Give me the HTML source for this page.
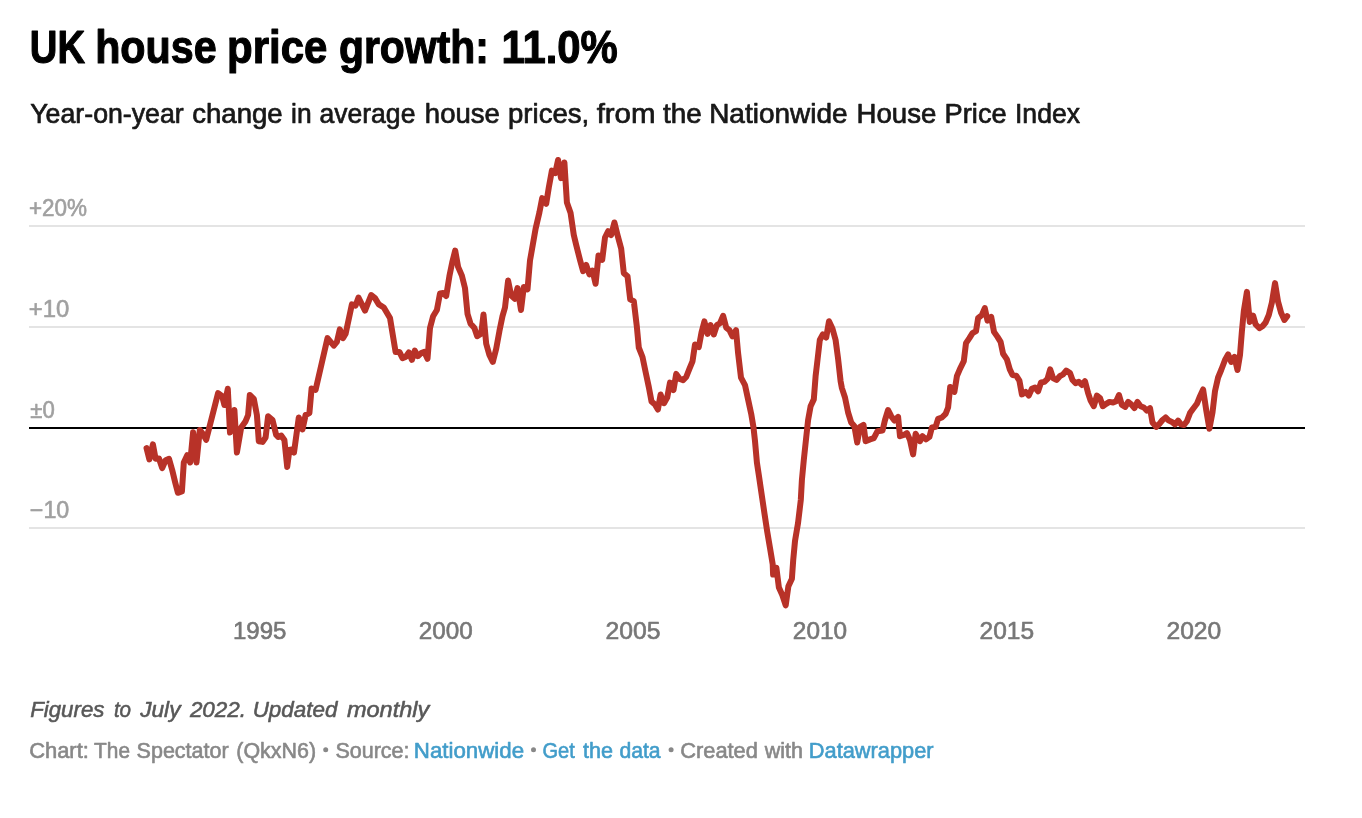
<!DOCTYPE html>
<html><head><meta charset="utf-8"><title>UK house price growth</title>
<style>
html,body{margin:0;padding:0;background:#fff;}
svg{display:block;font-family:"Liberation Sans",sans-serif;will-change:transform;}
</style></head>
<body>
<svg width="1362" height="818" viewBox="0 0 1362 818">
<rect width="1362" height="818" fill="#fff"/>
<g id="grid" stroke="#e4e4e4" stroke-width="2">
<line x1="29" x2="1305" y1="226" y2="226"/>
<line x1="29" x2="1305" y1="327" y2="327"/>
<line x1="29" x2="1305" y1="528" y2="528"/>
</g>
<line id="zero" x1="29" x2="1305" y1="428" y2="428" stroke="#000" stroke-width="2"/>
<path id="line" d="M146.5,448.1 149.4,459.4 152.9,444.4 155.6,458.8 159.0,458.5 162.2,468.1 165.6,460.2 169.0,458.8 172.2,470.0 175.2,482.5 177.9,492.8 181.9,491.5 183.8,462.5 187.2,455.2 190.2,462.5 193.1,432.2 196.5,462.5 199.8,430.0 202.9,433.8 206.2,439.8 218.1,393.1 222.2,396.2 224.4,405.0 227.8,388.8 230.0,432.5 234.4,410.0 236.9,452.5 241.2,427.5 245.6,421.2 248.1,415.0 249.8,395.0 253.8,398.8 256.9,415.0 258.8,441.2 262.5,441.9 265.6,437.5 268.1,416.2 272.5,420.0 276.2,435.0 278.1,436.9 281.2,435.6 284.4,440.0 287.2,466.9 289.4,450.0 291.9,449.4 294.0,452.5 298.8,417.5 302.5,429.4 305.6,415.0 309.4,413.1 311.6,388.5 315.6,389.8 327.5,338.1 333.8,345.6 336.9,341.9 339.8,329.4 343.1,338.1 345.6,333.8 351.9,304.4 355.6,305.6 358.5,297.5 365.0,310.6 371.2,295.0 375.0,298.1 378.8,304.4 383.8,307.5 390.0,318.1 395.6,351.9 399.4,351.9 402.5,358.1 405.6,356.9 408.8,352.5 411.9,359.8 414.8,350.6 417.8,356.2 421.2,353.1 424.4,351.9 427.5,358.8 430.0,328.1 433.1,316.2 436.9,310.0 440.0,293.5 443.1,293.1 446.2,296.0 449.4,276.2 452.2,262.5 455.2,250.6 458.1,266.9 461.9,275.6 465.0,288.1 467.5,313.8 470.6,323.8 474.4,328.1 477.2,336.2 481.2,333.8 483.5,314.4 486.2,343.8 489.4,355.0 492.8,361.9 496.2,348.8 499.4,331.2 502.5,316.2 505.0,307.5 508.1,280.6 511.2,295.6 514.8,298.8 517.5,288.1 521.0,310.0 523.8,286.9 527.5,289.4 530.0,260.6 535.6,228.8 539.4,212.5 542.2,198.1 546.2,203.8 548.8,187.5 551.9,170.6 555.2,173.1 558.1,160.0 561.0,178.1 564.4,162.5 566.9,202.5 570.6,213.1 573.8,235.0 576.2,245.0 580.0,260.0 583.1,271.2 586.2,265.0 589.4,274.4 592.5,270.6 595.6,283.8 598.5,255.6 602.2,259.8 605.0,237.5 608.1,231.2 611.2,235.0 614.4,222.5 617.5,235.0 621.2,248.8 623.8,273.1 627.5,276.2 630.2,299.4 633.8,301.2 636.9,327.2 638.8,347.6 642.5,357.0 645.6,372.0 648.8,387.0 651.5,401.4 655.0,404.5 657.9,409.5 660.6,394.5 664.0,403.2 667.2,397.6 670.0,382.6 673.5,390.1 676.2,373.9 679.8,378.9 683.1,380.1 686.2,377.0 689.4,368.9 692.5,361.4 695.0,344.5 698.8,347.0 701.5,332.6 704.4,321.4 707.5,333.9 710.6,325.1 713.8,334.5 716.9,325.1 720.0,323.2 723.1,315.8 726.2,327.6 729.4,330.1 732.5,336.4 736.0,330.1 738.1,353.2 741.0,377.6 745.0,385.1 748.1,399.5 751.2,413.8 753.5,427.5 755.0,441.2 756.9,462.5 758.8,475.0 764.5,513.7 767.2,531.5 770.0,547.9 772.7,564.3 773.1,574.6 776.4,567.8 778.9,587.6 782.3,595.1 785.7,605.4 788.4,586.2 791.9,578.7 793.2,560.2 795.0,541.1 798.0,523.3 800.8,500.0 801.9,480.0 803.8,460.0 806.2,437.5 808.1,420.0 810.6,406.2 813.8,399.4 815.6,376.2 817.5,360.0 819.8,340.0 822.8,334.4 826.2,337.5 829.0,321.2 832.5,328.8 835.6,340.0 838.1,358.8 840.6,381.2 841.9,388.1 845.0,397.5 848.1,412.5 851.2,422.5 854.4,426.2 857.2,442.5 860.0,426.9 863.5,425.0 865.6,441.2 870.0,439.4 873.8,438.1 877.5,431.2 882.5,430.6 885.0,420.0 888.1,410.0 891.2,416.2 894.4,420.6 898.1,416.9 900.0,436.2 903.8,435.0 906.9,433.1 910.0,440.0 913.1,454.4 915.6,433.8 920.0,441.2 922.5,436.2 926.0,439.4 929.4,436.9 931.9,427.5 935.6,426.9 938.1,418.8 941.9,417.5 945.6,413.8 948.1,407.5 950.2,386.9 954.4,391.9 956.9,376.2 960.0,368.8 963.8,361.2 966.0,343.1 969.4,338.1 972.5,333.1 976.0,331.2 978.1,318.1 981.9,315.0 984.8,308.1 987.5,320.6 991.2,316.9 994.0,331.9 997.5,336.9 1000.6,341.9 1003.1,353.8 1006.9,359.4 1009.8,369.4 1012.5,375.0 1016.2,375.6 1019.4,380.6 1021.9,394.4 1025.6,391.9 1028.8,395.6 1031.9,388.8 1035.0,387.5 1038.1,391.2 1041.0,382.5 1044.4,381.9 1047.5,378.8 1050.2,369.4 1053.1,378.1 1056.5,380.0 1059.8,376.2 1063.1,374.4 1066.2,370.6 1070.0,373.1 1072.5,380.0 1075.6,383.1 1078.8,381.9 1081.9,385.0 1085.0,381.2 1088.1,393.1 1090.6,400.6 1093.8,406.2 1096.9,395.6 1100.0,398.1 1102.8,406.2 1106.2,403.8 1109.4,401.9 1113.1,402.5 1116.2,401.2 1119.0,395.0 1121.9,405.0 1125.2,406.9 1128.1,401.9 1131.2,404.4 1134.4,408.1 1137.5,401.9 1140.6,406.2 1143.8,407.5 1146.9,410.6 1150.0,408.1 1152.5,422.5 1156.2,426.9 1159.4,423.8 1162.5,420.0 1165.6,417.5 1168.8,420.6 1171.9,421.9 1175.0,424.4 1178.1,420.6 1181.0,424.4 1184.0,425.0 1186.9,421.2 1190.0,413.1 1193.1,408.8 1196.9,403.8 1200.0,396.2 1203.1,389.4 1206.2,410.0 1209.4,428.8 1212.5,412.5 1215.0,391.2 1218.1,377.5 1221.2,370.0 1225.0,360.0 1228.1,354.4 1231.2,361.9 1234.4,356.9 1237.5,370.0 1240.0,355.0 1241.9,331.2 1243.8,311.2 1246.9,291.9 1249.8,321.9 1253.1,315.6 1255.6,324.4 1259.4,328.1 1262.5,326.2 1265.6,322.5 1268.8,315.0 1271.9,302.5 1275.0,283.1 1278.1,301.9 1281.2,313.1 1284.4,320.0 1287.2,316.2" fill="none" stroke="#b83228" stroke-width="6" stroke-linejoin="round" stroke-linecap="round"/>
<g id="title" font-size="45.57" font-weight="bold" font-style="normal" fill="#000" stroke="#000" stroke-width="1.1" stroke-linejoin="round">
<text x="29.87" y="63.4" textLength="55.20" lengthAdjust="spacingAndGlyphs">UK</text>
<text x="95.13" y="63.4" textLength="121.53" lengthAdjust="spacingAndGlyphs">house</text>
<text x="227.09" y="63.4" textLength="100.30" lengthAdjust="spacingAndGlyphs">price</text>
<text x="338.95" y="63.4" textLength="149.94" lengthAdjust="spacingAndGlyphs">growth:</text>
<text x="501.41" y="63.4" textLength="116.41" lengthAdjust="spacingAndGlyphs">11.0%</text>
</g>
<g id="sub" font-size="26.96" font-weight="normal" font-style="normal" fill="#181818" stroke="#181818" stroke-width="0.7" stroke-linejoin="round">
<text x="30.25" y="122.5" textLength="153.48" lengthAdjust="spacingAndGlyphs">Year-on-year</text>
<text x="192.23" y="122.5" textLength="90.44" lengthAdjust="spacingAndGlyphs">change</text>
<text x="291.07" y="122.5" textLength="20.55" lengthAdjust="spacingAndGlyphs">in</text>
<text x="319.46" y="122.5" textLength="95.96" lengthAdjust="spacingAndGlyphs">average</text>
<text x="424.83" y="122.5" textLength="75.03" lengthAdjust="spacingAndGlyphs">house</text>
<text x="508.03" y="122.5" textLength="81.14" lengthAdjust="spacingAndGlyphs">prices,</text>
<text x="596.65" y="122.5" textLength="58.89" lengthAdjust="spacingAndGlyphs">from</text>
<text x="662.95" y="122.5" textLength="38.72" lengthAdjust="spacingAndGlyphs">the</text>
<text x="709.17" y="122.5" textLength="138.51" lengthAdjust="spacingAndGlyphs">Nationwide</text>
<text x="856.50" y="122.5" textLength="79.87" lengthAdjust="spacingAndGlyphs">House</text>
<text x="944.63" y="122.5" textLength="62.02" lengthAdjust="spacingAndGlyphs">Price</text>
<text x="1014.98" y="122.5" textLength="65.06" lengthAdjust="spacingAndGlyphs">Index</text>
</g>
<g id="y20" font-size="23.19" font-weight="normal" font-style="normal" fill="#a0a0a0" stroke="#a0a0a0" stroke-width="0.6" stroke-linejoin="round">
<text x="28.93" y="216.1" textLength="58.07" lengthAdjust="spacingAndGlyphs">+20%</text>
</g>
<g id="y10" font-size="23.19" font-weight="normal" font-style="normal" fill="#a0a0a0" stroke="#a0a0a0" stroke-width="0.6" stroke-linejoin="round">
<text x="28.87" y="317.1" textLength="40.45" lengthAdjust="spacingAndGlyphs">+10</text>
</g>
<g id="y0" font-size="23.19" font-weight="normal" font-style="normal" fill="#a0a0a0" stroke="#a0a0a0" stroke-width="0.6" stroke-linejoin="round">
<text x="30.30" y="418.0" textLength="24.45" lengthAdjust="spacingAndGlyphs">±0</text>
</g>
<g id="ym10" font-size="23.19" font-weight="normal" font-style="normal" fill="#a0a0a0" stroke="#a0a0a0" stroke-width="0.6" stroke-linejoin="round">
<text x="29.80" y="518.0" textLength="39.50" lengthAdjust="spacingAndGlyphs">−10</text>
</g>
<g id="xlab" font-size="23.19" font-weight="normal" font-style="normal" fill="#777" stroke="#777" stroke-width="0.6" stroke-linejoin="round">
<text x="232.96" y="638.8" textLength="53.46" lengthAdjust="spacingAndGlyphs">1995</text>
<text x="418.85" y="638.8" textLength="53.98" lengthAdjust="spacingAndGlyphs">2000</text>
<text x="605.43" y="638.8" textLength="55.02" lengthAdjust="spacingAndGlyphs">2005</text>
<text x="792.85" y="638.8" textLength="54.19" lengthAdjust="spacingAndGlyphs">2010</text>
<text x="979.54" y="638.8" textLength="54.50" lengthAdjust="spacingAndGlyphs">2015</text>
<text x="1166.44" y="638.8" textLength="54.81" lengthAdjust="spacingAndGlyphs">2020</text>
</g>
<g id="notes" font-size="21.81" font-weight="normal" font-style="italic" fill="#585858" stroke="#585858" stroke-width="0.55" stroke-linejoin="round">
<text x="30.17" y="716.6" textLength="74.25" lengthAdjust="spacingAndGlyphs">Figures</text>
<text x="113.88" y="716.6" textLength="17.17" lengthAdjust="spacingAndGlyphs">to</text>
<text x="140.21" y="716.6" textLength="40.27" lengthAdjust="spacingAndGlyphs">July</text>
<text x="189.90" y="716.6" textLength="56.14" lengthAdjust="spacingAndGlyphs">2022.</text>
<text x="252.65" y="716.6" textLength="84.78" lengthAdjust="spacingAndGlyphs">Updated</text>
<text x="346.97" y="716.6" textLength="82.26" lengthAdjust="spacingAndGlyphs">monthly</text>
</g>
<g id="foot" font-size="21.3" font-weight="normal" font-style="normal" fill="#888" stroke="#888" stroke-width="0.6" stroke-linejoin="round">
<text x="29.17" y="757.6" textLength="59.70" lengthAdjust="spacingAndGlyphs">Chart:</text>
<text x="94.10" y="757.6" textLength="35.93" lengthAdjust="spacingAndGlyphs">The</text>
<text x="136.60" y="757.6" textLength="91.99" lengthAdjust="spacingAndGlyphs">Spectator</text>
<text x="236.29" y="757.6" textLength="79.81" lengthAdjust="spacingAndGlyphs">(QkxN6)</text>
<circle cx="325.70" cy="749.70" r="2.5" stroke="none"/>
<text x="335.50" y="757.6" textLength="74.03" lengthAdjust="spacingAndGlyphs">Source:</text>
<text x="413.85" y="757.6" textLength="110.23" lengthAdjust="spacingAndGlyphs" fill="#429dca" stroke="#429dca">Nationwide</text>
<circle cx="533.50" cy="749.70" r="2.5" stroke="none"/>
<text x="542.46" y="757.6" textLength="32.26" lengthAdjust="spacingAndGlyphs" fill="#429dca" stroke="#429dca">Get</text>
<text x="583.10" y="757.6" textLength="29.95" lengthAdjust="spacingAndGlyphs" fill="#429dca" stroke="#429dca">the</text>
<text x="619.40" y="757.6" textLength="41.15" lengthAdjust="spacingAndGlyphs" fill="#429dca" stroke="#429dca">data</text>
<circle cx="671.10" cy="749.70" r="2.5" stroke="none"/>
<text x="680.17" y="757.6" textLength="77.79" lengthAdjust="spacingAndGlyphs">Created</text>
<text x="764.71" y="757.6" textLength="38.24" lengthAdjust="spacingAndGlyphs">with</text>
<text x="808.78" y="757.6" textLength="124.82" lengthAdjust="spacingAndGlyphs" fill="#429dca" stroke="#429dca">Datawrapper</text>
</g>
</svg>
</body></html>
